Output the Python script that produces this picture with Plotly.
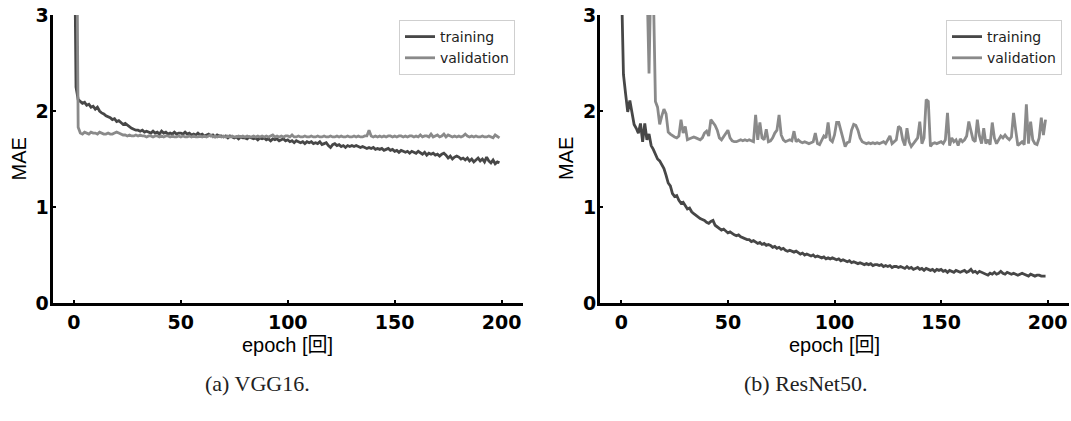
import plotly.graph_objects as go

# ---- training history (MAE per epoch, epochs 0..199) ----
epochs = list(range(200))

vgg16_train = [
    4.50, 2.25, 2.12, 2.10, 2.08, 2.09, 2.06, 2.07, 2.04, 2.05,
    2.02, 2.04, 2.00, 1.98, 1.97, 1.95, 1.94, 1.93, 1.91, 1.92,
    1.89, 1.90, 1.88, 1.86, 1.87, 1.85, 1.84, 1.82, 1.81, 1.80,
    1.80, 1.79, 1.80, 1.78, 1.79, 1.78, 1.77, 1.79, 1.77, 1.78,
    1.76, 1.79, 1.77, 1.78, 1.76, 1.77, 1.76, 1.78, 1.76, 1.77,
    1.77, 1.76, 1.78, 1.76, 1.77, 1.75, 1.76, 1.75, 1.77, 1.75,
    1.76, 1.74, 1.75, 1.76, 1.74, 1.75, 1.73, 1.75, 1.74, 1.74,
    1.73, 1.74, 1.72, 1.74, 1.73, 1.72, 1.73, 1.71, 1.73, 1.72,
    1.72, 1.71, 1.73, 1.72, 1.71, 1.72, 1.70, 1.72, 1.71, 1.72,
    1.70, 1.71, 1.69, 1.71, 1.70, 1.71, 1.69, 1.70, 1.71, 1.69,
    1.70, 1.68, 1.69, 1.67, 1.69, 1.68, 1.67, 1.68, 1.66, 1.68,
    1.67, 1.68, 1.66, 1.67, 1.66, 1.68, 1.65, 1.66, 1.67, 1.64,
    1.62, 1.65, 1.66, 1.64, 1.65, 1.63, 1.64, 1.62, 1.64, 1.63,
    1.64, 1.63, 1.64, 1.63, 1.62, 1.63, 1.62, 1.61, 1.62, 1.61,
    1.62, 1.60, 1.61, 1.60, 1.61, 1.59, 1.60, 1.61, 1.59, 1.60,
    1.58, 1.59, 1.57, 1.59, 1.58, 1.57, 1.58, 1.56, 1.58, 1.57,
    1.56, 1.58, 1.56, 1.55, 1.57, 1.54, 1.56, 1.55, 1.56, 1.54,
    1.55, 1.53, 1.55, 1.56, 1.54, 1.51, 1.53, 1.50, 1.52, 1.53,
    1.52, 1.50, 1.51, 1.49, 1.51, 1.48, 1.50, 1.47, 1.49, 1.51,
    1.48, 1.50, 1.47, 1.52, 1.48, 1.46, 1.49, 1.45, 1.47, 1.46,
]

vgg16_val = [
    8.00, 5.00, 1.83, 1.77, 1.76, 1.78, 1.77, 1.76, 1.78, 1.77,
    1.77, 1.76, 1.78, 1.77, 1.76, 1.76, 1.77, 1.76, 1.76, 1.77,
    1.78, 1.77, 1.76, 1.75, 1.75, 1.74, 1.75, 1.74, 1.74, 1.75,
    1.74, 1.75, 1.74, 1.74, 1.73, 1.74, 1.74, 1.73, 1.74, 1.74,
    1.73, 1.74, 1.73, 1.74, 1.74, 1.73, 1.74, 1.73, 1.73, 1.74,
    1.73, 1.74, 1.73, 1.73, 1.74, 1.73, 1.74, 1.73, 1.73, 1.74,
    1.73, 1.74, 1.73, 1.74, 1.75, 1.73, 1.74, 1.73, 1.74, 1.73,
    1.74, 1.73, 1.74, 1.73, 1.74, 1.73, 1.73, 1.74, 1.73, 1.74,
    1.73, 1.74, 1.73, 1.73, 1.74, 1.73, 1.74, 1.73, 1.74, 1.73,
    1.74, 1.73, 1.74, 1.75, 1.73, 1.74, 1.73, 1.74, 1.73, 1.74,
    1.74, 1.73, 1.75, 1.73, 1.73, 1.74, 1.73, 1.73, 1.74, 1.73,
    1.73, 1.74, 1.73, 1.73, 1.74, 1.73, 1.73, 1.74, 1.73, 1.73,
    1.74, 1.73, 1.73, 1.74, 1.73, 1.74, 1.73, 1.73, 1.74, 1.73,
    1.73, 1.74, 1.73, 1.74, 1.73, 1.73, 1.74, 1.74, 1.80, 1.74,
    1.73, 1.74, 1.73, 1.74, 1.73, 1.74, 1.73, 1.74, 1.74, 1.73,
    1.74, 1.73, 1.74, 1.74, 1.73, 1.74, 1.73, 1.74, 1.74, 1.73,
    1.74, 1.73, 1.75, 1.73, 1.74, 1.74, 1.73, 1.76, 1.73, 1.74,
    1.75, 1.73, 1.74, 1.76, 1.73, 1.75, 1.74, 1.73, 1.74, 1.73,
    1.74, 1.73, 1.74, 1.76, 1.74, 1.73, 1.74, 1.73, 1.74, 1.73,
    1.73, 1.74, 1.73, 1.73, 1.74, 1.73, 1.72, 1.75, 1.73, 1.72,
]

resnet50_train = [
    3.40, 2.38, 2.18, 1.99, 2.11, 2.00, 1.86, 1.82, 1.77, 1.87,
    1.68, 1.87, 1.70, 1.76, 1.64, 1.60, 1.55, 1.50, 1.48, 1.44,
    1.40, 1.33, 1.25, 1.22, 1.14, 1.11, 1.12, 1.07, 1.04, 1.05,
    1.01, 0.98, 0.99, 0.95, 0.93, 0.91, 0.90, 0.88, 0.87, 0.86,
    0.84, 0.83, 0.85, 0.86, 0.81, 0.79, 0.78, 0.76, 0.77, 0.75,
    0.73, 0.74, 0.72, 0.71, 0.70, 0.71, 0.69, 0.68, 0.67, 0.66,
    0.66, 0.64, 0.65, 0.63, 0.62, 0.63, 0.61, 0.62, 0.60, 0.61,
    0.60, 0.58, 0.59, 0.57, 0.58, 0.56, 0.57, 0.55, 0.54, 0.55,
    0.54, 0.53, 0.54, 0.52, 0.51, 0.52, 0.50, 0.51, 0.50, 0.49,
    0.50, 0.48, 0.49, 0.48, 0.47, 0.48, 0.46, 0.47, 0.46, 0.47,
    0.46, 0.45, 0.46, 0.44, 0.45, 0.44, 0.43, 0.44, 0.42, 0.43,
    0.42, 0.41, 0.42, 0.41, 0.40, 0.41, 0.40, 0.41, 0.39, 0.40,
    0.40, 0.39, 0.40, 0.38, 0.39, 0.38, 0.39, 0.37, 0.38, 0.38,
    0.37, 0.38, 0.37, 0.36, 0.38, 0.36, 0.37, 0.35, 0.36, 0.37,
    0.35, 0.36, 0.34, 0.36, 0.35, 0.34, 0.35, 0.33, 0.35, 0.34,
    0.35, 0.33, 0.34, 0.32, 0.34, 0.33, 0.32, 0.34, 0.33, 0.32,
    0.33, 0.34, 0.32, 0.33, 0.35, 0.32, 0.33, 0.31, 0.33, 0.32,
    0.31, 0.30, 0.29, 0.31, 0.30, 0.32, 0.30, 0.31, 0.33, 0.31,
    0.30, 0.32, 0.31, 0.30, 0.31, 0.30, 0.29, 0.30, 0.31, 0.30,
    0.29, 0.28, 0.30, 0.29, 0.28, 0.29, 0.29, 0.28, 0.28, 0.28,
]

resnet50_val = [
    9.50, 8.10, 7.20, 6.00, 5.60, 5.10, 4.80, 4.30, 4.10, 3.90,
    3.70, 3.50, 3.40, 2.39, 3.60, 3.30, 2.10, 2.04, 1.86, 1.95,
    2.02, 1.97, 1.78, 1.76, 1.74, 1.73, 1.72, 1.74, 1.91, 1.77,
    1.84, 1.70, 1.71, 1.72, 1.73, 1.72, 1.71, 1.70, 1.72, 1.77,
    1.79, 1.74, 1.91, 1.88, 1.85, 1.80, 1.72, 1.70, 1.73, 1.77,
    1.80, 1.72, 1.69, 1.68, 1.68, 1.69, 1.70, 1.69, 1.70, 1.69,
    1.70, 1.69, 1.68, 1.96, 1.70, 1.88, 1.72, 1.70, 1.81, 1.68,
    1.69, 1.72, 1.77, 1.80, 1.96, 1.75, 1.70, 1.68, 1.69, 1.70,
    1.69, 1.79, 1.68, 1.70, 1.68, 1.67, 1.68, 1.67, 1.66, 1.67,
    1.68, 1.77, 1.66, 1.65, 1.70, 1.74, 1.72, 1.88, 1.70, 1.68,
    1.75, 1.88, 1.88, 1.80, 1.70, 1.63, 1.67, 1.68, 1.80, 1.86,
    1.85, 1.80, 1.72, 1.68, 1.67, 1.66, 1.67, 1.66, 1.67, 1.66,
    1.67, 1.66, 1.67, 1.68, 1.66, 1.70, 1.74, 1.66, 1.68, 1.70,
    1.84, 1.82, 1.70, 1.64, 1.82, 1.68, 1.63, 1.66, 1.70, 1.72,
    1.89, 1.66, 1.72, 2.12, 2.10, 1.63, 1.66, 1.67, 1.66, 1.67,
    1.68, 1.66, 1.70, 1.98, 1.64, 1.72, 1.68, 1.70, 1.64, 1.71,
    1.68, 1.70, 1.74, 1.89, 1.79, 1.70, 1.68, 1.91, 1.74, 1.66,
    1.82, 1.66, 1.70, 1.65, 1.88, 1.72, 1.66, 1.70, 1.74, 1.72,
    1.75, 1.72, 1.70, 1.73, 1.98, 1.80, 1.64, 1.66, 1.68, 1.65,
    2.07, 1.66, 1.89, 1.70, 1.66, 1.65, 1.72, 1.93, 1.75, 1.91,
]

x_ticks = [0, 50, 100, 150, 200]
y_ticks = [0, 1, 2, 3]
series_names = ["training", "validation"]
captions = ["(a) VGG16.", "(b) ResNet50."]
x_title = "epoch [回]"
y_title = "MAE"

W, H = 1071, 421
TRAIN_COLOR = "#474747"
VAL_COLOR = "#8a8a8a"

fig = go.Figure()

panels = [
    ("x", "y", "legend", vgg16_train, vgg16_val),
    ("x2", "y2", "legend2", resnet50_train, resnet50_val),
]
for xa, ya, lg, tr, va in panels:
    fig.add_trace(go.Scatter(x=epochs, y=tr, mode="lines", name=series_names[0],
                             line=dict(color=TRAIN_COLOR, width=2.8),
                             xaxis=xa, yaxis=ya, legend=lg))
    fig.add_trace(go.Scatter(x=epochs, y=va, mode="lines", name=series_names[1],
                             line=dict(color=VAL_COLOR, width=2.8),
                             xaxis=xa, yaxis=ya, legend=lg))

tick_font = dict(family="DejaVu Sans", size=19, color="black", weight="bold")
axis_base = dict(showline=True, linecolor="black", linewidth=3, ticks="inside",
                 ticklen=3, tickwidth=1.5, tickcolor="black", showgrid=False,
                 zeroline=False, tickfont=tick_font, automargin=False)
common_x = dict(range=[-10, 210], tickvals=x_ticks, ticklabelstandoff=0, **axis_base)
common_y = dict(range=[0, 3], tickvals=y_ticks, ticklabelstandoff=-3, **axis_base)

y_dom = [(H - 303) / H, (H - 15) / H]
left_dom = [52.5 / W, 523 / W]
right_dom = [600 / W, 1069 / W]

legend_style = dict(bgcolor="white", bordercolor="#cfcfcf", borderwidth=1,
                    font=dict(family="DejaVu Sans", size=14, color="#222222"),
                    xanchor="right", yanchor="top", y=(H - 20) / H,
                    itemwidth=30, tracegroupgap=0)

fig.update_layout(
    width=W, height=H,
    margin=dict(l=0, r=0, t=0, b=0, autoexpand=False),
    paper_bgcolor="white", plot_bgcolor="white",
    xaxis=dict(domain=left_dom, anchor="y", **common_x),
    yaxis=dict(domain=y_dom, anchor="x", **common_y),
    xaxis2=dict(domain=right_dom, anchor="y2", **common_x),
    yaxis2=dict(domain=y_dom, anchor="x2", **common_y),
    legend=dict(x=515 / W, **legend_style),
    legend2=dict(x=1062 / W, **legend_style),
    showlegend=True,
)

label_font = dict(family="Liberation Sans, Noto Sans CJK JP", size=20, color="black")
caption_font = dict(family="Liberation Serif, DejaVu Serif", size=22, color="#222222")
caption_centers = [257 / W, 805 / W]

for dom, cap, ccx in zip([left_dom, right_dom], captions, caption_centers):
    cx = (dom[0] + dom[1]) / 2
    fig.add_annotation(text=x_title, x=cx, y=(H - 345) / H, xref="paper", yref="paper",
                       showarrow=False, font=label_font, xanchor="center", yanchor="middle")
    fig.add_annotation(text=y_title, x=dom[0] - 34 / W, y=(y_dom[0] + y_dom[1]) / 2,
                       xref="paper", yref="paper", showarrow=False, textangle=-90,
                       font=label_font, xanchor="center", yanchor="middle")
    fig.add_annotation(text=cap, x=ccx, y=(H - 383) / H, xref="paper", yref="paper",
                       showarrow=False, font=caption_font, xanchor="center", yanchor="middle")

fig.write_html("out.html")
